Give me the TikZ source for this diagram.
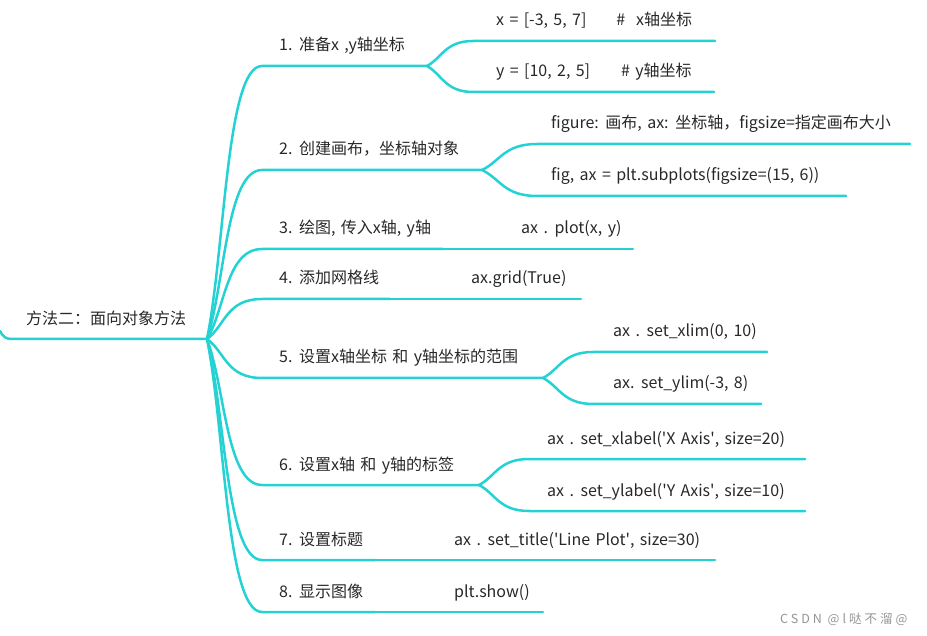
\documentclass[tikz,border=0pt]{standalone}
\usepackage{fontspec}
\setmainfont{Noto Sans CJK SC}[WordSpace=1.5]
\newfontfamily\markfont{Noto Sans CJK SC}[LetterSpace=24]
\usepackage{tikz}
\usetikzlibrary{calc,positioning}
\definecolor{branchcyan}{RGB}{36,210,212}
\definecolor{txtgray}{RGB}{40,40,40}

\begin{document}
\begin{tikzpicture}[
    x=1pt, y=-1pt,
    topic/.style={anchor=base west, inner sep=0pt, text=txtgray, font=\fontsize{16}{18}\selectfont},
    leaf/.style={topic},
    branch/.style={draw=branchcyan, line width=2.5pt, line cap=round},
    watermark/.style={anchor=base west, inner sep=0pt, text=black!42, font=\markfont\fontsize{12.5}{14}\selectfont}
]
\useasboundingbox (0,0) rectangle (927,636);

\coordinate (rootin) at (0,331);
\coordinate (rootl) at (12,339);
\coordinate (root) at (207,339);
\node[topic] (main) at ($(rootl)+(14,-14)$) {方法二：面向对象方法};
\draw[branch] (rootin) .. controls (3,337) and (6,339) .. (rootl) -- (root);

\foreach \n/\y/\fx in {1/66/427, 2/170/482, 3/249/443, 4/299/390, 5/378/543, 6/485/479, 7/560/375, 8/612/375}{
    \coordinate (c\n) at (262,\y);
    \coordinate (f\n) at (\fx,\y);
    \draw[branch] (root) .. controls ($(root)!0.33!(c\n)$) and ($(c\n)!0.65!(root |- c\n)$) .. (c\n) -- (f\n);
}

\node[topic] (t1) at ($(c1)+(17,-15)$) {1. 准备x ,y轴坐标};
\node[topic] (t2) at ($(c2)+(17,-15)$) {2. 创建画布，坐标轴对象};
\node[topic] (t3) at ($(c3)+(17,-15)$) {3. 绘图, 传入x轴, y轴};
\node[topic] (t4) at ($(c4)+(17,-15)$) {4. 添加网格线};
\node[topic] (t5) at ($(c5)+(17,-15)$) {5. 设置x轴坐标 和 y轴坐标的范围};
\node[topic] (t6) at ($(c6)+(17,-15)$) {6. 设置x轴 和 y轴的标签};
\node[topic] (t7) at ($(c7)+(17,-15)$) {7. 设置标题};
\node[topic] (t8) at ($(c8)+(17,-15)$) {8. 显示图像};

\foreach \f/\s/\sx/\sy/\ex in {f1/1a/473/41/715, f1/1b/473/92/714, f2/2a/537/144/910, f2/2b/537/196/846,
    f5/5a/593/352/767, f5/5b/593/404/761, f6/6a/529/459/805, f6/6b/529/511/805}{
    \coordinate (s\s) at (\sx,\sy);
    \coordinate (e\s) at (\ex,\sy);
    \draw[branch] (\f) .. controls ($(\f)!0.33!(s\s)$) and ($(s\s)!0.6!(\f |- s\s)$) .. (s\s) -- (e\s);
}

\coordinate (e3) at (633,249);
\coordinate (e4) at (581,299);
\coordinate (e7) at (715,560);
\coordinate (e8) at (543,612);
\draw[branch] (f3) -- (e3);
\draw[branch] (f4) -- (e4);
\draw[branch] (f7) -- (e7);
\draw[branch] (f8) -- (e8);

\node[leaf] (l1a) at ($(s1a)+(23,-15)$) {x = [-3, 5, 7]\hspace{30pt}\#\ \ x轴坐标};
\node[leaf] (l1b) at ($(s1b)+(23,-15)$) {y = [10, 2, 5]\hspace{31pt}\# y轴坐标};
\node[leaf] (l2a) at ($(s2a)+(14,-15)$) {figure: 画布, ax: 坐标轴，figsize=指定画布大小};
\node[leaf] (l2b) at ($(s2b)+(14,-15)$) {fig, ax = plt.subplots(figsize=(15, 6))};
\node[leaf] (l3) at ($(f3)+(78,-15)$) {ax . plot(x, y)};
\node[leaf] (l4) at ($(f4)+(81,-15)$) {ax.grid(True)};
\node[leaf] (l5a) at ($(s5a)+(20,-15)$) {ax . set\_xlim(0, 10)};
\node[leaf] (l5b) at ($(s5b)+(20,-15)$) {ax. set\_ylim(-3, 8)};
\node[leaf] (l6a) at ($(s6a)+(18,-15)$) {ax . set\_xlabel(\textquotesingle X Axis\textquotesingle, size=20)};
\node[leaf] (l6b) at ($(s6b)+(18,-15)$) {ax . set\_ylabel(\textquotesingle Y Axis\textquotesingle, size=10)};
\node[leaf] (l7) at ($(f7)+(79,-15)$) {ax . set\_title(\textquotesingle Line Plot\textquotesingle, size=30)};
\node[leaf] (l8) at ($(f8)+(79,-15)$) {plt.show()};

\node[watermark] (csdn) at (780,623) {CSDN @l哒不溜@};

\end{tikzpicture}
\end{document}
